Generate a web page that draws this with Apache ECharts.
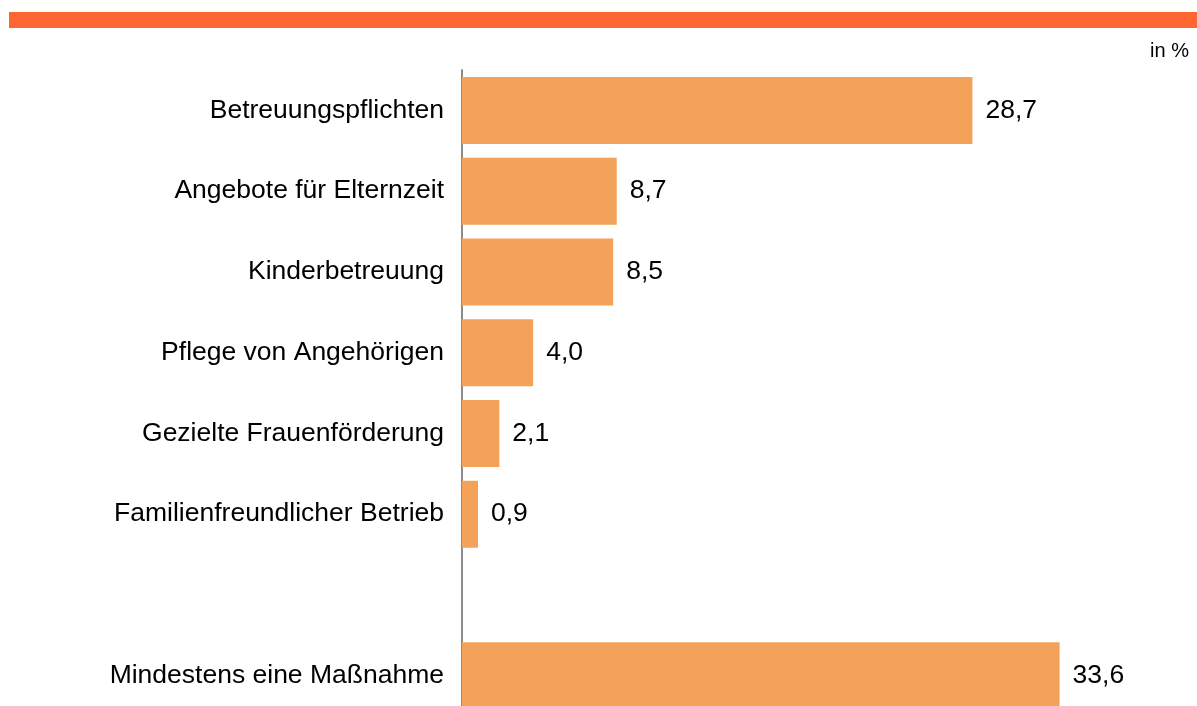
<!DOCTYPE html>
<html>
<head>
<meta charset="utf-8">
<script src="https://cdn.jsdelivr.net/npm/echarts@6/dist/echarts.min.js"></script>
<style>
html,body{margin:0;padding:0;background:#fff;}
#chart{width:1197px;height:706px;}
</style>
</head>
<body>
<div id="chart"></div>
<script>
const categories = [
  'Betreuungspflichten',
  'Angebote für Elternzeit',
  'Kinderbetreuung',
  'Pflege von Angehörigen',
  'Gezielte Frauenförderung',
  'Familienfreundlicher Betrieb',
  '',
  'Mindestens eine Maßnahme'
];
const values = [28.7, 8.7, 8.5, 4.0, 2.1, 0.9, null, 33.6];
const unitLabel = 'in %';

const chart = echarts.init(document.getElementById('chart'), null, {renderer: 'canvas'});
const font = '"Liberation Sans", Arial, Helvetica, sans-serif';

chart.setOption({
  animation: false,
  backgroundColor: '#ffffff',
  graphic: [
    {type: 'rect', shape: {x: 9, y: 12, width: 1188, height: 16}, style: {fill: '#FF6633'}},
    {type: 'text', right: 8, top: 41, style: {text: unitLabel, font: '20px ' + font, fill: '#000'}}
  ],
  grid: {left: 462, top: 70, width: 711.4, height: 646, containLabel: false, outerBoundsMode: 'none'},
  xAxis: {
    type: 'value', min: 0, max: 40,
    show: false,
    splitLine: {show: false}
  },
  yAxis: {
    type: 'category',
    inverse: true,
    data: categories,
    axisLine: {show: true, lineStyle: {color: '#8c8c8c', width: 2}},
    axisTick: {show: false},
    axisLabel: {color: '#000', fontSize: 26.5, fontFamily: font, margin: 18}
  },
  series: [{
    type: 'bar',
    data: values,
    barWidth: 67,
    itemStyle: {color: '#F4A259'},
    label: {
      show: true,
      position: 'right',
      distance: 13,
      color: '#000',
      fontSize: 26.5,
      fontFamily: font,
      formatter: p => p.value == null ? '' : p.value.toFixed(1).replace('.', ',')
    }
  }]
});
</script>
</body>
</html>
